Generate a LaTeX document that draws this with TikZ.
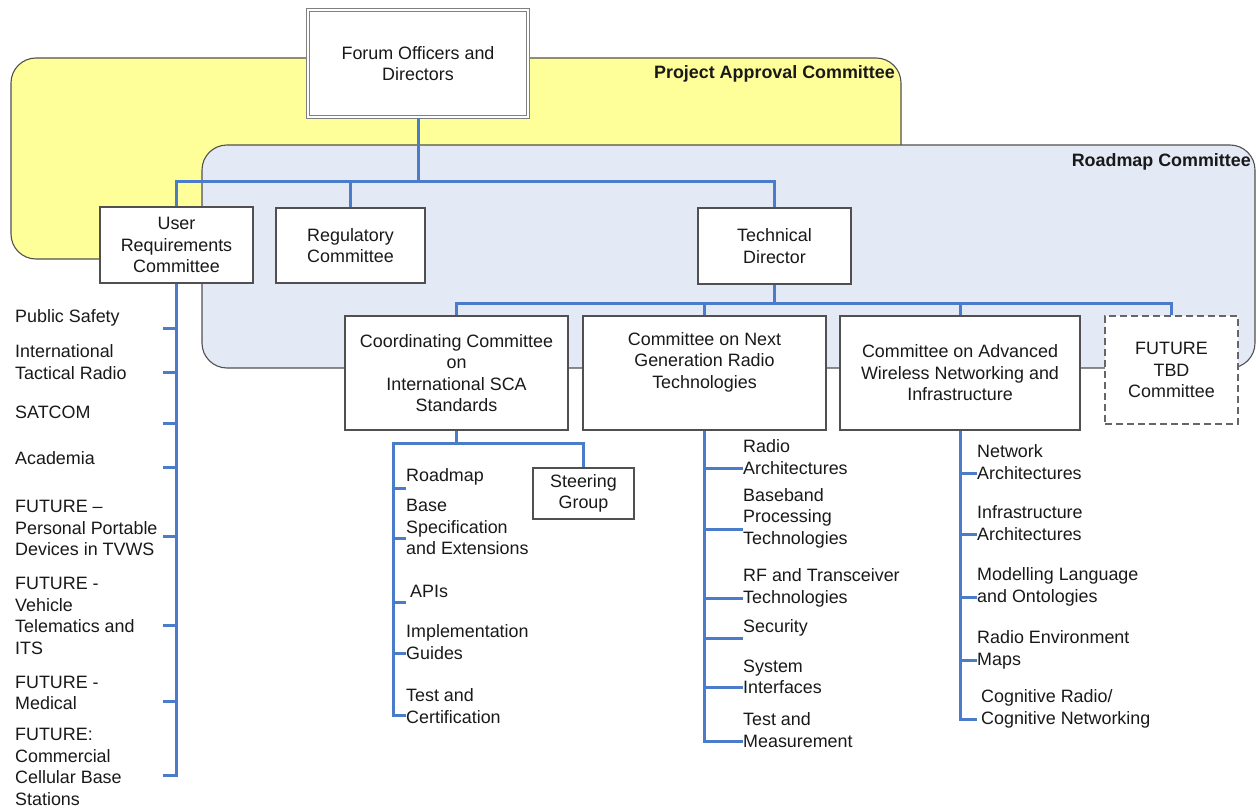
\documentclass[tikz,border=0pt]{standalone}
\usepackage{fontspec}
\setmainfont{Liberation Sans}
\definecolor{regionyellow}{HTML}{FFFF99}
\definecolor{regionblue}{HTML}{E3EAF5}
\definecolor{treeblue}{HTML}{4A7CC9}
\definecolor{boxgray}{HTML}{505050}

\begin{document}
\begin{tikzpicture}[x=1pt, y=-1pt]
    \tikzset{
        every node/.style={font=\fontsize{17.9}{21.5}\selectfont, text=black!90},
        region/.style={draw=boxgray, line width=1.1pt, rounded corners=25pt},
        mybox/.style={draw=boxgray, line width=1.2pt, fill=white, align=center, inner sep=0pt},
        myitem/.style={anchor=west, align=left, inner sep=0pt},
        myline/.style={draw=treeblue, line width=3pt},
        regionlabel/.style={anchor=east, inner sep=0pt, font=\fontsize{17.9}{21.5}\selectfont\bfseries},
    }
    \useasboundingbox (0,0) rectangle (1256,808);

    % Regions
    \draw[region, fill=regionyellow] (11,58) rectangle (901,259);
    \draw[region, fill=regionblue] (202,145) rectangle (1255,368);
    \node[regionlabel] (pac) at (895,74) {Project Approval Committee};
    \node[regionlabel] (rmc) at (1251,162) {Roadmap Committee};

    % Boxes
    \node[mybox, draw=gray, line width=1pt, double=white, double distance=1.5pt,
          minimum width=220, minimum height=107] (forum) at (418,63.5) {Forum Officers and\\Directors};
    \node[mybox, minimum width=153, minimum height=76] (user) at (176.5,245) {User\\Requirements\\Committee};
    \node[mybox, minimum width=149, minimum height=75] (reg) at (350.5,245.5) {Regulatory\\Committee};
    \node[mybox, minimum width=153, minimum height=76] (tech) at (774.5,246) {Technical\\Director};
    \node[mybox, minimum width=223, minimum height=114] (coord) at (456.5,373) {Coordinating Committee\\on\\International SCA\\Standards};
    \node[mybox, minimum width=243, minimum height=114] (nextgen) at (704.5,373) {};
    \node[align=center, inner sep=0pt] (nextgentxt) at (704.5,362) {Committee on Next\\Generation Radio\\Technologies};
    \node[mybox, minimum width=240, minimum height=114] (adv) at (960,373) {Committee on Advanced\\Wireless Networking and\\Infrastructure};
    \node[mybox, draw=gray!80!black, dash pattern=on 7pt off 4pt, minimum width=133, minimum height=108] (future) at (1171.5,370) {FUTURE\\TBD\\Committee};
    \node[mybox, minimum width=101, minimum height=51] (steer) at (583.5,493.5) {Steering\\Group};

    % Tree
    \coordinate (tbar) at (418,181);
    \coordinate (mbar) at (774.5,303);
    \draw[myline] (forum.south) -- (tbar);
    \draw[myline] (user.north) |- (tbar);
    \draw[myline] (tech.north) |- (tbar);
    \draw[myline] (reg.north) -- (reg.north |- tbar);
    \draw[myline] (tech.south) -- (mbar);
    \draw[myline] (coord.north) |- (mbar);
    \draw[myline] (future.north) |- (mbar);
    \draw[myline] (nextgen.north) -- (nextgen.north |- mbar);
    \draw[myline] (adv.north) -- (adv.north |- mbar);

    % User requirements list
    \node[myitem] (ps) at (15,318) {Public Safety};
    \node[myitem] (itr) at (15,362) {International\\Tactical Radio};
    \node[myitem] (sat) at (15,412) {SATCOM};
    \node[myitem] (acad) at (15,458) {Academia};
    \node[myitem] (ppd) at (15,528) {FUTURE --\\Personal Portable\\Devices in TVWS};
    \node[myitem] (vt) at (15,616) {FUTURE -\\Vehicle\\Telematics and\\ITS};
    \node[myitem] (med) at (15,693) {FUTURE -\\Medical};
    \node[myitem] (ccbs) at (15,767) {FUTURE:\\Commercial\\Cellular Base\\Stations};
    \coordinate (u1) at (163,328);
    \coordinate (u2) at (163,372);
    \coordinate (u3) at (163,423);
    \coordinate (u4) at (163,467);
    \coordinate (u5) at (163,536);
    \coordinate (u6) at (163,625);
    \coordinate (u7) at (163,701);
    \coordinate (u8) at (163,775);
    \draw[myline] (user.south) |- (u8);
    \draw[myline] (u1) -- (u1 -| user.south);
    \draw[myline] (u2) -- (u2 -| user.south);
    \draw[myline] (u3) -- (u3 -| user.south);
    \draw[myline] (u4) -- (u4 -| user.south);
    \draw[myline] (u5) -- (u5 -| user.south);
    \draw[myline] (u6) -- (u6 -| user.south);
    \draw[myline] (u7) -- (u7 -| user.south);

    % Coordinating committee list
    \node[myitem] (rdm) at (406,477) {Roadmap};
    \node[myitem] (bse) at (406,527) {Base\\Specification\\and Extensions};
    \node[myitem] (api) at (410,591) {APIs};
    \node[myitem] (ig) at (406,642) {Implementation\\Guides};
    \node[myitem] (tc) at (406,706) {Test and\\Certification};
    \coordinate (cleft) at (393,443);
    \coordinate (c1) at (406,488);
    \coordinate (c2) at (406,538);
    \coordinate (c3) at (406,602);
    \coordinate (c4) at (406,653);
    \coordinate (c5) at (406,715);
    \draw[myline] (coord.south) -- (coord.south |- cleft);
    \draw[myline] (c5) -| (cleft) -| (steer.north);
    \draw[myline] (c1) -- (c1 -| cleft);
    \draw[myline] (c2) -- (c2 -| cleft);
    \draw[myline] (c3) -- (c3 -| cleft);
    \draw[myline] (c4) -- (c4 -| cleft);

    % Next generation list
    \node[myitem] (ra) at (743,457) {Radio\\Architectures};
    \node[myitem] (bpt) at (743,518) {Baseband\\Processing\\Technologies};
    \node[myitem] (rft) at (743,588) {RF and Transceiver\\Technologies};
    \node[myitem] (sec) at (743,628) {Security};
    \node[myitem] (si) at (743,677) {System\\Interfaces};
    \node[myitem] (tm) at (743,730) {Test and\\Measurement};
    \coordinate (g1) at (743,468);
    \coordinate (g2) at (743,529);
    \coordinate (g3) at (743,598);
    \coordinate (g4) at (743,638);
    \coordinate (g5) at (743,687);
    \coordinate (g6) at (743,741);
    \draw[myline] (nextgen.south) |- (g6);
    \draw[myline] (g1) -- (g1 -| nextgen.south);
    \draw[myline] (g2) -- (g2 -| nextgen.south);
    \draw[myline] (g3) -- (g3 -| nextgen.south);
    \draw[myline] (g4) -- (g4 -| nextgen.south);
    \draw[myline] (g5) -- (g5 -| nextgen.south);

    % Advanced networking list
    \node[myitem] (na) at (977,462) {Network\\Architectures};
    \node[myitem] (ia) at (977,523) {Infrastructure\\Architectures};
    \node[myitem] (mlo) at (977,587) {Modelling Language\\and Ontologies};
    \node[myitem] (rem) at (977,650) {Radio Environment\\Maps};
    \node[myitem] (crn) at (981,709) {Cognitive Radio/\\Cognitive Networking};
    \coordinate (a1) at (977,473);
    \coordinate (a2) at (977,534);
    \coordinate (a3) at (977,597);
    \coordinate (a4) at (977,660);
    \coordinate (a5) at (977,719);
    \draw[myline] (adv.south) |- (a5);
    \draw[myline] (a1) -- (a1 -| adv.south);
    \draw[myline] (a2) -- (a2 -| adv.south);
    \draw[myline] (a3) -- (a3 -| adv.south);
    \draw[myline] (a4) -- (a4 -| adv.south);

\end{tikzpicture}
\end{document}
